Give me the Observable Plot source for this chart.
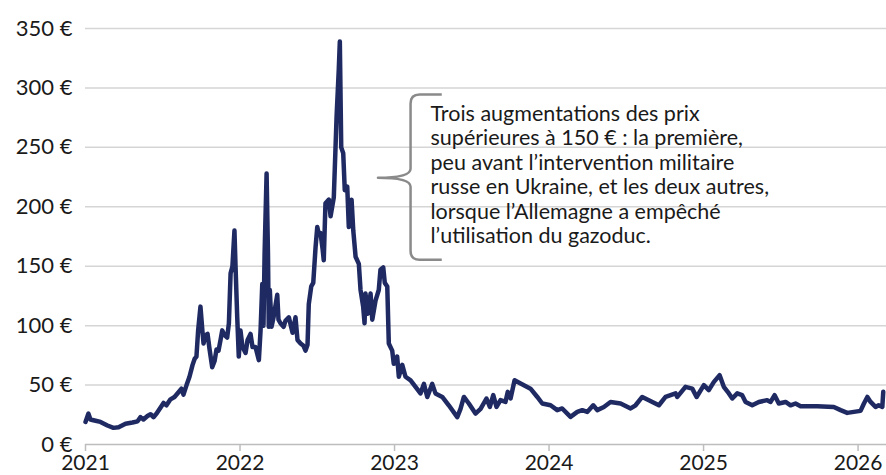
<!DOCTYPE html>
<html>
<head>
<meta charset="utf-8">
<script src="https://cdn.jsdelivr.net/npm/d3@7"></script>
<script src="https://cdn.jsdelivr.net/npm/@observablehq/plot@0.6"></script>
<style>
  html, body { margin: 0; padding: 0; background: #fff; }
  #chart { width: 886px; height: 475px; }
</style>
</head>
<body>
<div id="chart"></div>
<script>
// Decimal years (time axis)
const years = [
  2021.000, 2021.019, 2021.032, 2021.065, 2021.097, 2021.142, 2021.181, 2021.214, 2021.259, 2021.304,
  2021.337, 2021.356, 2021.375, 2021.401, 2021.421, 2021.440, 2021.460, 2021.485, 2021.505, 2021.524,
  2021.550, 2021.576, 2021.602, 2021.621, 2021.634, 2021.654, 2021.673, 2021.693, 2021.706, 2021.718,
  2021.729, 2021.744, 2021.757, 2021.764, 2021.777, 2021.790, 2021.803, 2021.820, 2021.835, 2021.848,
  2021.861, 2021.874, 2021.885, 2021.900, 2021.917, 2021.928, 2021.939, 2021.951, 2021.964, 2021.971,
  2021.982, 2021.992, 2022.003, 2022.016, 2022.036, 2022.049, 2022.068, 2022.081, 2022.100, 2022.122,
  2022.133, 2022.144, 2022.152, 2022.159, 2022.172, 2022.181, 2022.186, 2022.193, 2022.204, 2022.217,
  2022.241, 2022.249, 2022.262, 2022.282, 2022.294, 2022.316, 2022.340, 2022.359, 2022.372, 2022.392,
  2022.411, 2022.424, 2022.437, 2022.445, 2022.461, 2022.474, 2022.489, 2022.500, 2022.508, 2022.521,
  2022.534, 2022.542, 2022.553, 2022.575, 2022.586, 2022.607, 2022.625, 2022.639, 2022.646, 2022.655,
  2022.668, 2022.678, 2022.694, 2022.704, 2022.722, 2022.733, 2022.748, 2022.769, 2022.780, 2022.797,
  2022.806, 2022.812, 2022.827, 2022.845, 2022.856, 2022.877, 2022.898, 2022.909, 2022.927, 2022.937,
  2022.953, 2022.963, 2022.985, 2022.995, 2023.017, 2023.028, 2023.050, 2023.071, 2023.104, 2023.136,
  2023.168, 2023.190, 2023.212, 2023.244, 2023.265, 2023.309, 2023.351, 2023.406, 2023.427, 2023.449,
  2023.481, 2023.524, 2023.557, 2023.595, 2023.617, 2023.639, 2023.660, 2023.686, 2023.718, 2023.733,
  2023.751, 2023.777, 2023.816, 2023.880, 2023.924, 2023.956, 2024.010, 2024.053, 2024.085, 2024.139,
  2024.183, 2024.215, 2024.247, 2024.286, 2024.312, 2024.355, 2024.398, 2024.463, 2024.528, 2024.560,
  2024.603, 2024.646, 2024.711, 2024.754, 2024.819, 2024.830, 2024.883, 2024.927, 2024.955, 2025.002,
  2025.034, 2025.067, 2025.104, 2025.131, 2025.164, 2025.186, 2025.218, 2025.250, 2025.272, 2025.315,
  2025.358, 2025.412, 2025.434, 2025.460, 2025.487, 2025.531, 2025.563, 2025.595, 2025.628, 2025.736,
  2025.843, 2025.887, 2025.930, 2026.016, 2026.038, 2026.060, 2026.081, 2026.113, 2026.133, 2026.157,
  2026.163
];
// Gas price, € / MWh
const prices = [
  19, 26, 21, 20, 19, 16, 14, 14.5, 17.5, 18.5,
  19.5, 23, 21, 24, 25.5, 23, 26, 31, 35, 33,
  38, 40, 44, 47, 42, 50, 57, 67, 72, 74,
  96, 116, 95, 85, 92, 93, 80, 65, 70, 80,
  79, 88, 96, 92, 90, 102, 144, 150, 180, 150,
  107, 74, 96, 82, 77, 88, 93, 82, 82, 71,
  96, 135, 100, 160, 228, 160, 99, 130, 99, 107,
  126, 105, 102, 99, 104, 107, 94, 107, 88, 85,
  83, 79, 84, 118, 133, 136, 166, 183, 178, 178,
  165, 155, 203, 206, 192, 208, 276, 315, 339, 250,
  245, 214, 217, 183, 206, 180, 158, 152, 130, 116,
  102, 127, 110, 127, 105, 121, 130, 147, 149, 136,
  133, 85, 79, 68, 74, 57, 67, 57, 54, 48.5,
  43, 51, 40, 51, 43, 40, 33, 23, 30, 40,
  34.5, 26, 30, 38.7, 31.6, 41.5, 31.6, 37.3, 35.8, 44.3,
  38.7, 54, 51.3, 47, 40, 34.5, 33, 28.9, 30.3, 23.2,
  27.4, 28.9, 27.4, 33, 28.9, 31.6, 35.8, 34.5, 30.3, 33,
  40, 37.3, 33, 40, 43, 40, 48.5, 47, 40, 50,
  45.7, 52.7, 58.3, 48.5, 43, 38.7, 43, 41.5, 35.8, 33,
  35.8, 37.3, 35.8, 41.5, 34.5, 35.8, 33, 34.5, 32.2, 32.2,
  31.6, 28.9, 26.6, 28.3, 34.5, 40, 35.8, 31.6, 33, 31.6,
  44.3
];
const yearTicks = [2021, 2022, 2023, 2024, 2025, 2026];
const priceTicks = [0, 50, 100, 150, 200, 250, 300, 350];
const annotationLines = [
  "Trois augmentations des prix",
  "supérieures à 150 € : la première,",
  "peu avant l’intervention militaire",
  "russe en Ukraine, et les deux autres,",
  "lorsque l’Allemagne a empêché",
  "l’utilisation du gazoduc."
];
// Brace (data units): vertical at x, tip at tipX, arms to endX, spanning top..bottom, tip at mid
const braceX = 2023.107, braceTipX = 2022.896, braceEndX = 2023.309;
const braceTop = 294, braceBottom = 155, braceMid = 224;
const noteX = 2023.233, noteY = 287;

const data = years.map((x, i) => ({x, y: prices[i]}));

const braceMark = (index, {x, y}) => {
  const X = x(braceX), T = x(braceTipX), E = x(braceEndX);
  const Y0 = y(braceTop), Y1 = y(braceBottom), M = y(braceMid);
  const r = 9;
  const d = `M${E},${Y0} L${X + r},${Y0} Q${X},${Y0} ${X},${Y0 + r} L${X},${M - r} Q${X},${M} ${T},${M} Q${X},${M} ${X},${M + r} L${X},${Y1 - r} Q${X},${Y1} ${X + r},${Y1} L${E},${Y1}`;
  const p = document.createElementNS("http://www.w3.org/2000/svg", "path");
  p.setAttribute("d", d);
  p.setAttribute("fill", "none");
  p.setAttribute("stroke", "#8a8a8a");
  p.setAttribute("stroke-width", "2.5");
  p.setAttribute("stroke-linejoin", "round");
  return p;
};

const chart = Plot.plot({
  width: 886,
  height: 475,
  marginLeft: 85,
  marginRight: 0,
  marginTop: 28,
  marginBottom: 31,
  style: {fontFamily: "Lato, 'Open Sans', sans-serif", fontSize: "22px", color: "#1a1a1a", background: "#fff", overflow: "visible"},
  x: {type: "linear", domain: [2021, 2026.184], label: null},
  y: {domain: [0, 350], label: null},
  marks: [
    Plot.gridY(priceTicks.filter(d => d > 0), {stroke: "#d5d5d5", strokeOpacity: 1, strokeWidth: 1.5}),
    Plot.ruleY([0], {stroke: "#bdbdbd", strokeWidth: 1.5}),
    Plot.axisX({ticks: yearTicks, tickFormat: d => String(d), tickSize: 7, tickPadding: 4, stroke: "#bdbdbd", strokeWidth: 1.5, fill: "#1a1a1a", fontSize: 21, label: null}),
    Plot.axisY({ticks: priceTicks, tickFormat: d => `${d} €`, tickSize: 0, tickPadding: 13, fill: "#1a1a1a", fontSize: 22, label: null}),
    Plot.line(data, {x: "x", y: "y", stroke: "#1f2a63", strokeWidth: 4.5, strokeLinejoin: "round", strokeLinecap: "round"}),
    braceMark,
    Plot.text([annotationLines.join("\n")], {x: noteX, y: noteY, text: d => d, textAnchor: "start", lineAnchor: "top", lineHeight: 1.14, fontSize: 21.5, fill: "#1a1a1a"})
  ]
});
document.getElementById("chart").append(chart);
</script>
</body>
</html>
